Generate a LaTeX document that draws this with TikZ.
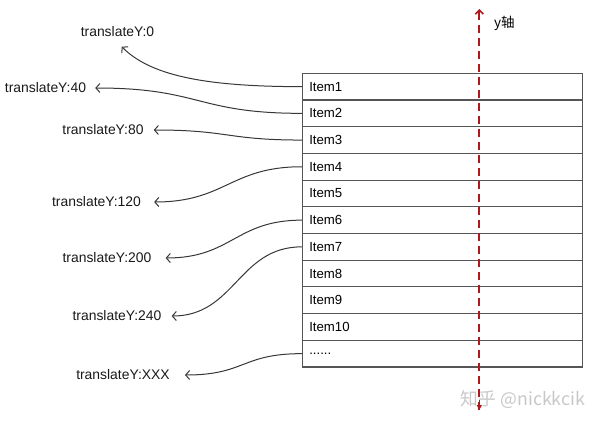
\documentclass[tikz,border=0pt]{standalone}
\usepackage{fontspec}
\setmainfont{Liberation Sans}
\newfontfamily\cjkfont{Noto Sans CJK SC}
\usetikzlibrary{arrows.meta}
\definecolor{axisred}{RGB}{175,25,30}
\definecolor{linegray}{RGB}{55,55,55}
\definecolor{boxgray}{RGB}{85,85,85}
\definecolor{wmgray}{RGB}{200,200,200}
\tikzset{
  itembox/.style={draw=boxgray, line width=1.1pt, minimum width=280pt, minimum height=26.7pt,
    text width=266pt, align=left, inner xsep=7pt, inner ysep=0pt, anchor=center,
    font=\fontsize{13.2}{15}\selectfont},
  lbl/.style={font=\fontsize{13.9}{16}\selectfont, inner sep=0pt, text=black!90},
  conn/.style={draw=linegray, line width=1pt, -{Straight Barb[length=4pt,width=9pt]}},
  axisline/.style={draw=axisred, line width=1.8pt, dash pattern=on 8pt off 5pt}
}
\begin{document}
\begin{tikzpicture}[x=1pt,y=-1pt]
\useasboundingbox (0,0) rectangle (602,425);
% list rows
\foreach \i/\t in {1/Item1,2/Item2,3/Item3,4/Item4,5/Item5,6/Item6,7/Item7,8/Item8,9/Item9,10/Item10,11/{......}}{
  \node[itembox] (i\i) at (442.3,{73.3+26.7*(\i-0.5)}) {\t};
}
% labels
\node[lbl] (l0)   at (117.5,32)  {translateY:0};
\node[lbl] (l40)  at (45.5,88)   {translateY:40};
\node[lbl] (l80)  at (103,130)   {translateY:80};
\node[lbl] (l120) at (96.5,202)  {translateY:120};
\node[lbl] (l200) at (107,258)   {translateY:200};
\node[lbl] (l240) at (117,316)   {translateY:240};
\node[lbl] (lX)   at (123,375)   {translateY:XXX};
% connectors
\coordinate (t0) at (121.7,46.7);
\draw[conn] (i1.west) .. controls +(-100,0) and +(28,28) .. (t0);
\draw[conn] (i2.west) to[out=180,in=0,looseness=1.3] ([xshift=9pt]l40.east);
\draw[conn] (i3.west) to[out=180,in=0,looseness=1.3] ([xshift=10pt]l80.east);
\draw[conn] (i4.west) to[out=180,in=0,looseness=1.2] ([xshift=13pt]l120.east);
\draw[conn] (i6.west) to[out=180,in=0,looseness=1.2] ([xshift=14pt]l200.east);
\draw[conn] (i7.west) to[out=180,in=0,looseness=1.1] ([xshift=10pt]l240.east);
\draw[conn] (i11.west) to[out=180,in=0,looseness=1.3] ([xshift=15pt]lX.east);
% watermark
\node[text=wmgray, font=\cjkfont\fontsize{17.8}{20}\selectfont, inner sep=0pt] (wm) at (523,400) {知乎 @nickkcik};
% y axis
\coordinate (axtop) at (479.3,9);
\coordinate (axbot) at (479.3,410);
\draw[axisline] (axbot) -- (axtop);
\draw[draw=axisred, line width=1.6pt, -{Straight Barb[length=4pt,width=8pt]}] (479.3,20) -- (axtop);
\draw[draw=axisred, fill=axisred, line width=1pt, -{Triangle[length=5pt,width=5pt]}] (479.3,400) -- (axbot);
\node[font=\cjkfont\fontsize{13.5}{16}\selectfont, inner sep=0pt, anchor=west] (ylab) at (494,23) {y轴};
\end{tikzpicture}
\end{document}
